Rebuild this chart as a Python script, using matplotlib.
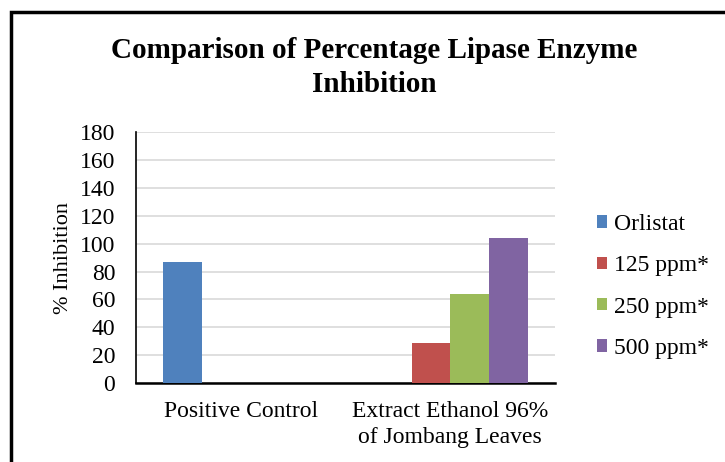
import matplotlib.pyplot as plt
from matplotlib.patches import Rectangle
import numpy as np

plt.rcParams['font.family'] = ['Liberation Serif', 'DejaVu Serif']

categories = ['Positive Control', 'Extract Ethanol 96%\nof Jombang Leaves']
series = ['Orlistat', '125 ppm*', '250 ppm*', '500 ppm*']
values = [
    [86.8, 0],
    [0, 28.7],
    [0, 63.8],
    [0, 104.0],
]
colors = ['#4F81BD', '#C0504D', '#9BBB59', '#8064A2']

fig = plt.figure(figsize=(7.25, 4.62), dpi=100)
ax = fig.add_axes([0.1876, 0.171, 0.578, 0.543])

x = np.arange(len(categories))
w = 0.185
for i, (name, vals) in enumerate(zip(series, values)):
    ax.bar(x + (i - 1.5) * w, vals, width=w, color=colors[i], label=name, zorder=3)

ax.set_xlim(-0.5, 1.5)
ax.set_ylim(0, 180)
ax.set_yticks(range(0, 181, 20))
ax.set_xticks(x)
ax.set_xticklabels(categories, fontsize=17, linespacing=1.3)
ax.tick_params(axis='both', length=0, labelsize=17)
ax.tick_params(axis='x', pad=13)
ax.tick_params(axis='y', pad=15)
ax.grid(axis='y', color='#D9D9D9', linewidth=1.2, zorder=0)
for s in ['top', 'right']:
    ax.spines[s].set_visible(False)
ax.spines['left'].set_linewidth(1.2)
ax.spines['bottom'].set_linewidth(1.8)
ax.set_ylabel('% Inhibition', fontsize=16, labelpad=5)

fig.text(0.516, 0.854, 'Comparison of Percentage Lipase Enzyme\nInhibition',
         ha='center', va='center', fontsize=21, fontweight='bold', linespacing=1.32)

ax.legend(loc='center left', bbox_to_anchor=(1.05, 0.385), frameon=False, fontsize=17,
          handlelength=0.42, handleheight=0.42, handletextpad=0.3, labelspacing=0.86)

# outer frame (right and bottom edges are cut off)
fig.patches.append(Rectangle((11 / 725, -0.1), 1.2, 1 - 11.5 / 462 + 0.1,
                             transform=fig.transFigure, fill=False,
                             edgecolor='black', linewidth=2.5))

fig.savefig('out.png', dpi=100)
